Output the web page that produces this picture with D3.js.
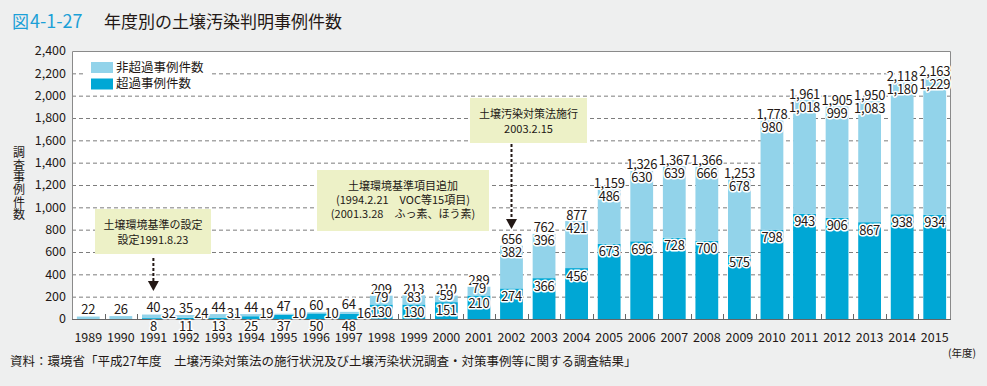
<!DOCTYPE html>
<html>
<head>
<meta charset="utf-8">
<script src="https://cdn.jsdelivr.net/npm/d3@7"></script>
<style>
  body { margin: 0; background: #eeefef; }
  svg text { font-family: "Noto Sans CJK JP", "Noto Sans", sans-serif; fill: #231815; }
</style>
</head>
<body>
<div id="container"></div>
<script>
/* global d3 */

// data
const years = [1989, 1990, 1991, 1992, 1993, 1994, 1995, 1996, 1997, 1998, 1999, 2000, 2001, 2002,
  2003, 2004, 2005, 2006, 2007, 2008, 2009, 2010, 2011, 2012, 2013, 2014, 2015];
const exceeded = [null, null, 8, 11, 13, 25, 37, 50, 48, 130, 130, 151, 210, 274,
  366, 456, 673, 696, 728, 700, 575, 798, 943, 906, 867, 938, 934];
const nonExceeded = [null, null, 32, 24, 31, 19, 10, 10, 16, 79, 83, 59, 79, 382,
  396, 421, 486, 630, 639, 666, 678, 980, 1018, 999, 1083, 1180, 1229];
const totals = [22, 26, 40, 35, 44, 44, 47, 60, 64, 209, 213, 210, 289, 656,
  762, 877, 1159, 1326, 1367, 1366, 1253, 1778, 1961, 1905, 1950, 2118, 2163];
const yTicks = [0, 200, 400, 600, 800, 1000, 1200, 1400, 1600, 1800, 2000, 2200, 2400];
const seriesNames = ["非超過事例件数", "超過事例件数"];

const width = 987;
const height = 386;
const plot = { left: 72, right: 951, top: 51, bottom: 319 };
const light = "#92d3ea";
const dark = "#00a7d5";

//create svg
const svg = d3
  .select("#container")
  .append("svg")
  .attr("width", width)
  .attr("height", height);

svg.append("rect").attr("width", width).attr("height", height).attr("fill", "#eeefef");

// title
const title = svg.append("text").attr("x", 12).attr("y", 28);
title.append("tspan").style("fill", "#1ba0d7").style("font-size", "17px").text("図");
title.append("tspan").style("fill", "#1ba0d7").style("font-size", "18px").attr("dx", 1).text("4-1-27");
svg
  .append("text")
  .attr("x", 104)
  .attr("y", 28)
  .style("font-size", "17px")
  .text("年度別の土壌汚染判明事例件数");

// scales
const x = d3
  .scaleBand()
  .domain(years)
  .range([plot.left, plot.right])
  .paddingInner(0.3)
  .paddingOuter(0.15);
const y = d3.scaleLinear().domain([0, 2400]).range([plot.bottom, plot.top]);
const bw = x.bandwidth();
const step = x.step();

// plot area
svg
  .append("rect")
  .attr("x", plot.left)
  .attr("y", plot.top)
  .attr("width", plot.right - plot.left)
  .attr("height", plot.bottom - plot.top)
  .attr("fill", "#fff");

// dashed grid
svg
  .append("g")
  .selectAll("line")
  .data(yTicks.filter((t) => t > 0 && t < 2400))
  .enter()
  .append("line")
  .attr("x1", plot.left)
  .attr("x2", plot.right)
  .attr("y1", (d) => y(d) + 0.5)
  .attr("y2", (d) => y(d) + 0.5)
  .attr("stroke", "#7d7d7d")
  .attr("stroke-dasharray", "4,3");

// y tick labels
svg
  .append("g")
  .selectAll("text")
  .data(yTicks)
  .enter()
  .append("text")
  .attr("x", 66)
  .attr("y", (d) => y(d))
  .attr("dy", "0.35em")
  .attr("text-anchor", "end")
  .style("font-size", "12.5px")
  .text(d3.format(","));

// y title, stacked vertically
const yTitle = "調査事例件数".split("");
svg
  .append("g")
  .selectAll("text")
  .data(yTitle)
  .enter()
  .append("text")
  .attr("x", 19)
  .attr("y", (d, i) => 153 + i * 12.4)
  .attr("dy", "0.35em")
  .attr("text-anchor", "middle")
  .style("font-size", "12px")
  .text((d) => d);

// bars
const rows = years.map((yr, i) => ({
  year: yr,
  exc: exceeded[i],
  non: nonExceeded[i],
  total: totals[i],
}));

const bars = svg.append("g");
bars
  .selectAll(".exc")
  .data(rows.filter((d) => d.exc !== null))
  .enter()
  .append("rect")
  .attr("class", "exc")
  .attr("x", (d) => x(d.year))
  .attr("width", bw)
  .attr("y", (d) => y(d.exc))
  .attr("height", (d) => y(0) - y(d.exc))
  .attr("fill", dark);
bars
  .selectAll(".non")
  .data(rows)
  .enter()
  .append("rect")
  .attr("class", "non")
  .attr("x", (d) => x(d.year))
  .attr("width", bw)
  .attr("y", (d) => y(d.total))
  .attr("height", (d) => y(d.exc || 0) - y(d.total))
  .attr("fill", light);

// frame
const frame = svg.append("g").attr("stroke", "#8a8a8a").attr("fill", "none");
frame
  .append("path")
  .attr("d", `M${plot.left + 0.5},${plot.bottom}V${plot.top + 0.5}H${plot.right - 0.5}V${plot.bottom}`);
frame
  .append("line")
  .attr("x1", plot.left)
  .attr("x2", plot.right)
  .attr("y1", plot.bottom + 0.5)
  .attr("y2", plot.bottom + 0.5)
  .attr("stroke", "#666");
// little ticks between the bars
frame
  .selectAll(".tick")
  .data(years.slice(1))
  .enter()
  .append("line")
  .attr("x1", (d) => Math.round(x(d) - (step - bw) / 2) + 0.5)
  .attr("x2", (d) => Math.round(x(d) - (step - bw) / 2) + 0.5)
  .attr("y1", plot.bottom)
  .attr("y2", plot.bottom - 5)
  .attr("stroke", "#666");

// year labels
svg
  .append("g")
  .selectAll("text")
  .data(years)
  .enter()
  .append("text")
  .attr("x", (d) => x(d) + bw / 2)
  .attr("y", 338)
  .attr("dy", "0.35em")
  .attr("text-anchor", "middle")
  .style("font-size", "12.5px")
  .text((d) => d);

// value labels with white halo
const labels = [];
rows.forEach((d) => {
  const cx = x(d.year) + bw / 2;
  const top = y(d.total);
  if (d.exc === null) {
    labels.push({ x: cx, y: top - 7, t: d.total });
  } else if (y(0) - top < 12) {
    labels.push({ x: cx, y: top - 7, t: d.total });
    labels.push({ x: cx + step / 2 - 1, y: 313, t: d.non });
    labels.push({ x: cx, y: 326, t: d.exc });
  } else {
    const excY = y(d.exc) + 8;
    const nonY = Math.min(top + 7, excY - 15);
    const totY = Math.min(top - 6, nonY - 6);
    labels.push({ x: cx, y: totY, t: d.total });
    labels.push({ x: cx, y: nonY, t: d.non });
    labels.push({ x: cx, y: excY, t: d.exc });
  }
});
svg
  .append("g")
  .selectAll("text")
  .data(labels)
  .enter()
  .append("text")
  .attr("x", (d) => d.x)
  .attr("y", (d) => d.y)
  .attr("dy", "0.35em")
  .attr("text-anchor", "middle")
  .style("font-size", "13px")
  .style("letter-spacing", "-0.3px")
  .style("stroke", "#fff")
  .style("stroke-width", "3px")
  .style("stroke-linejoin", "round")
  .style("paint-order", "stroke")
  .text((d) => d3.format(",")(d.t));

// legend
const legend = svg.append("g");
legend.append("rect").attr("x", 84).attr("y", 57).attr("width", 126).attr("height", 37).attr("fill", "#fff");
[light, dark].forEach((c, i) => {
  legend
    .append("rect")
    .attr("x", 91)
    .attr("y", 62 + i * 16.5)
    .attr("width", 22)
    .attr("height", 11)
    .attr("fill", c);
  legend
    .append("text")
    .attr("x", 116)
    .attr("y", 67.5 + i * 16.5)
    .attr("dy", "0.35em")
    .style("font-size", "12.5px")
    .text(seriesNames[i]);
});

// annotations
const notes = [
  { year: 1991, box: [95, 209, 116, 45], lines: ["土壌環境基準の設定", "設定1991.8.23"], lineY: 225, gap: 15, from: 258, tip: 291 },
  { year: null, box: [317, 170, 172, 61], lines: ["土壌環境基準項目追加", "(1994.2.21　VOC等15項目)", "(2001.3.28　ふっ素、ほう素)"], lineY: 186.5, gap: 14 },
  { year: 2002, box: [470, 98, 117, 45], lines: ["土壌汚染対策法施行", "2003.2.15"], lineY: 114, gap: 15, from: 144, tip: 229 },
];
notes.forEach((n) => {
  const g = svg.append("g");
  g.append("rect")
    .attr("x", n.box[0])
    .attr("y", n.box[1])
    .attr("width", n.box[2])
    .attr("height", n.box[3])
    .attr("fill", "#edf1c7");
  n.lines.forEach((l, i) => {
    g.append("text")
      .attr("x", n.box[0] + n.box[2] / 2)
      .attr("y", n.lineY + i * n.gap)
      .attr("dy", "0.35em")
      .attr("text-anchor", "middle")
      .style("font-size", "11px")
      .text(l);
  });
  if (n.year) {
    const ax = x(n.year) + bw / 2;
    g.append("line")
      .attr("x1", ax)
      .attr("x2", ax)
      .attr("y1", n.from)
      .attr("y2", n.tip - 9)
      .attr("stroke", "#231815")
      .attr("stroke-width", 2)
      .attr("stroke-dasharray", "3,2");
    g.append("path")
      .attr("d", `M${ax - 5.5},${n.tip - 10}H${ax + 5.5}L${ax},${n.tip}Z`)
      .attr("fill", "#231815");
  }
});

// unit and source
svg
  .append("text")
  .attr("x", 976)
  .attr("y", 353)
  .attr("dy", "0.35em")
  .attr("text-anchor", "end")
  .style("font-size", "10.5px")
  .text("(年度)");
svg
  .append("text")
  .attr("x", 10)
  .attr("y", 362)
  .attr("dy", "0.35em")
  .style("font-size", "12.5px")
  .text("資料：環境省「平成27年度　土壌汚染対策法の施行状況及び土壌汚染状況調査・対策事例等に関する調査結果」");
</script>
</body>
</html>
